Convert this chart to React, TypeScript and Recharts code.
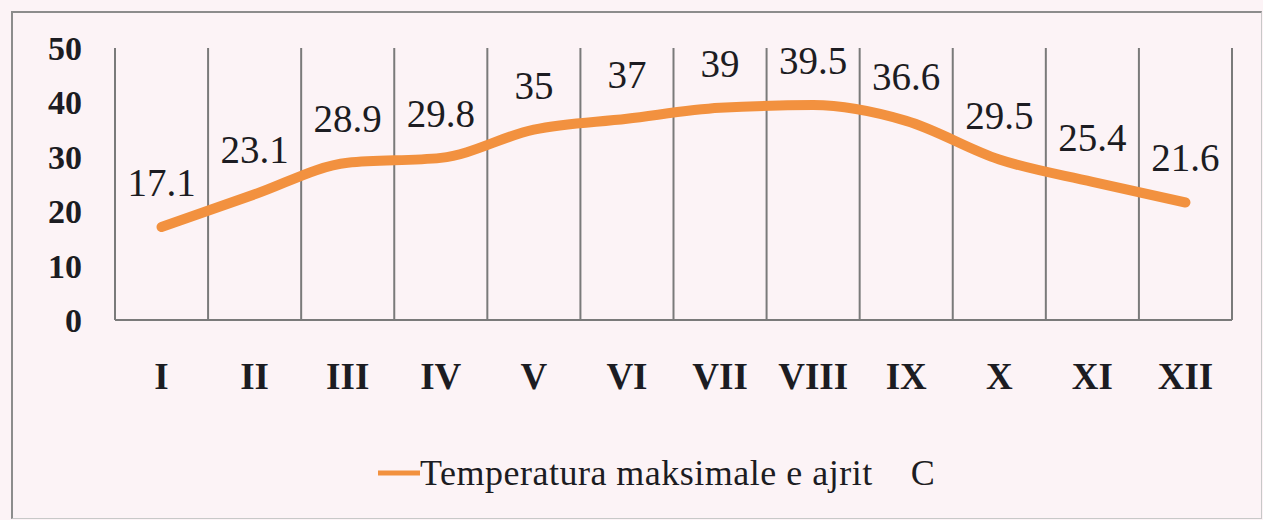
import { LineChart, Line, XAxis, YAxis, CartesianGrid, Legend, LabelList } from "recharts"

// ------------------------------------------------------------------
// Data
// ------------------------------------------------------------------

const months = ["I", "II", "III", "IV", "V", "VI", "VII", "VIII", "IX", "X", "XI", "XII"]
const maxTemp = [17.1, 23.1, 28.9, 29.8, 35, 37, 39, 39.5, 36.6, 29.5, 25.4, 21.6]
const yTicks = [0, 10, 20, 30, 40, 50]
const seriesName = "Temperatura maksimale e ajrit"

const data = months.map((m, i) => ({ month: m, temp: maxTemp[i] }))

const FONT = "Liberation Serif"
const INK = "#1c1c22"
const ORANGE = "#F2913F"
const GRID = "#7a7a7a"

// ------------------------------------------------------------------
// Labels / legend
// ------------------------------------------------------------------

function ValueLabel(props: any) {
    const { x, y, value } = props
    return (
        <text x={x} y={y - 31} textAnchor="middle" fill={INK} fontSize={39} fontFamily={FONT}>
            {value}
        </text>
    )
}

function LegendContent() {
    return (
        <div style={{ height: 50, display: "flex", alignItems: "center", fontFamily: FONT, color: INK }}>
            <svg width={42} height={10}>
                <line x1={0} y1={5} x2={42} y2={5} stroke={ORANGE} strokeWidth={5} />
            </svg>
            <span style={{ fontFamily: FONT, fontSize: 36, whiteSpace: "pre", letterSpacing: 0.5 }}>
                {seriesName + "    C"}
            </span>
        </div>
    )
}

// ------------------------------------------------------------------
// Chart
// ------------------------------------------------------------------

export default function App() {
    return (
        <div style={{ position: "absolute", left: 0, top: 0, width: 1263, height: 520, background: "#fcf3f6", overflow: "hidden" }}>
            <div
                style={{
                    position: "absolute",
                    left: 11,
                    top: 11,
                    width: 1248,
                    height: 505,
                    borderLeft: "2px solid #8c8c8c",
                    borderTop: "2px solid #8c8c8c",
                    borderRight: "1px solid #c8c8c8",
                    borderBottom: "1px solid #c8c8c8",
                }}
            />
            <div style={{ position: "absolute", left: 0, top: 0 }}>
                <LineChart width={1263} height={520} data={data} margin={{ top: 48, right: 31, left: 55, bottom: 10 }}>
                    <CartesianGrid
                        horizontal={false}
                        stroke={GRID}
                        strokeWidth={2}
                        verticalCoordinatesGenerator={({ offset }: any) =>
                            months.map((_, i) => offset.left + (i * offset.width) / months.length).concat(offset.left + offset.width)
                        }
                    />
                    <XAxis
                        dataKey="month"
                        scale="band"
                        height={140}
                        tickLine={false}
                        tickSize={0}
                        tickMargin={43}
                        axisLine={{ stroke: GRID, strokeWidth: 2 }}
                        tick={{ fontSize: 37, fontWeight: "bold", fill: INK, fontFamily: FONT }}
                        interval={0}
                    />
                    <YAxis
                        width={60}
                        domain={[0, 50]}
                        ticks={yTicks}
                        tickLine={false}
                        tickSize={0}
                        tickMargin={33}
                        axisLine={false}
                        tick={{ fontSize: 34, fontWeight: "bold", fill: INK, fontFamily: FONT }}
                    />
                    <Legend
                        verticalAlign="bottom"
                        align="left"
                        content={<LegendContent />}
                        wrapperStyle={{ left: 378, width: 640, bottom: 22 }}
                    />
                    <Line
                        type="monotone"
                        dataKey="temp"
                        name={seriesName}
                        stroke={ORANGE}
                        strokeWidth={10}
                        strokeLinecap="round"
                        strokeLinejoin="round"
                        dot={false}
                        activeDot={false}
                        isAnimationActive={false}
                    >
                        <LabelList dataKey="temp" content={<ValueLabel />} />
                    </Line>
                </LineChart>
            </div>
        </div>
    )
}
